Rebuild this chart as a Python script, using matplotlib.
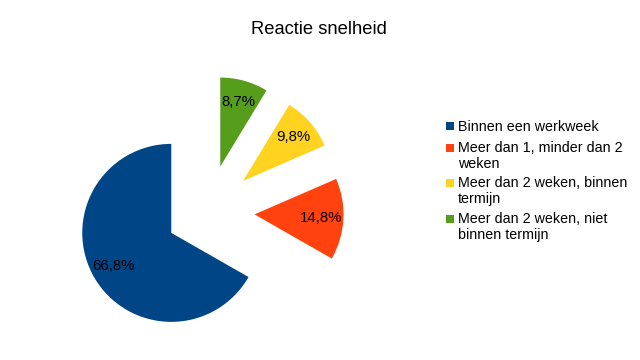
import matplotlib
matplotlib.use("Agg")
import matplotlib.pyplot as plt
from matplotlib.patches import Rectangle

plt.rcParams['font.family'] = ['Liberation Sans', 'DejaVu Sans']

title = "Reactie snelheid"
categories = ["Binnen een werkweek",
              "Meer dan 1, minder dan 2\nweken",
              "Meer dan 2 weken, binnen\ntermijn",
              "Meer dan 2 weken, niet\nbinnen termijn"]
values = [66.8, 14.8, 9.8, 8.7]
value_labels = ["66,8%", "14,8%", "9,8%", "8,7%"]
colors = ["#004586", "#ff420e", "#ffd320", "#579d1c"]

W, H = 640, 360
fig = plt.figure(figsize=(6.4, 3.6), dpi=100)
ax = fig.add_axes([0, 0, 1, 1])

it = iter(value_labels)
wedges, texts, autotexts = ax.pie(
    values, colors=colors, startangle=90, counterclock=True,
    center=(207.6, H - 211.8), radius=89,
    explode=[42, 47, 47, 47],
    autopct=lambda p: next(it), pctdistance=0.75,
    wedgeprops=dict(linewidth=0), textprops=dict(fontsize=10.8, color="black"))
ax.set_xlim(0, W)
ax.set_ylim(0, H)
ax.set_aspect('equal')
ax.axis('off')

fig.text(319 / W, 1 - 30 / H, title, ha='center', va='center', fontsize=13.2)

# legend
row_baselines = [130.7, 152, 187, 223]
line_h = 15.5
fs = 10.3
for lab, col, yb in zip(categories, colors, row_baselines):
    fig.patches.append(Rectangle((446 / W, 1 - (yb - 0.5) / H), 8 / W, 8 / H,
                                 transform=fig.transFigure, facecolor=col,
                                 edgecolor='none'))
    for k, line in enumerate(lab.split("\n")):
        fig.text(458 / W, 1 - (yb + k * line_h) / H, line, ha='left',
                 va='baseline', fontsize=fs, color="black")

fig.savefig("out.png", dpi=100)
